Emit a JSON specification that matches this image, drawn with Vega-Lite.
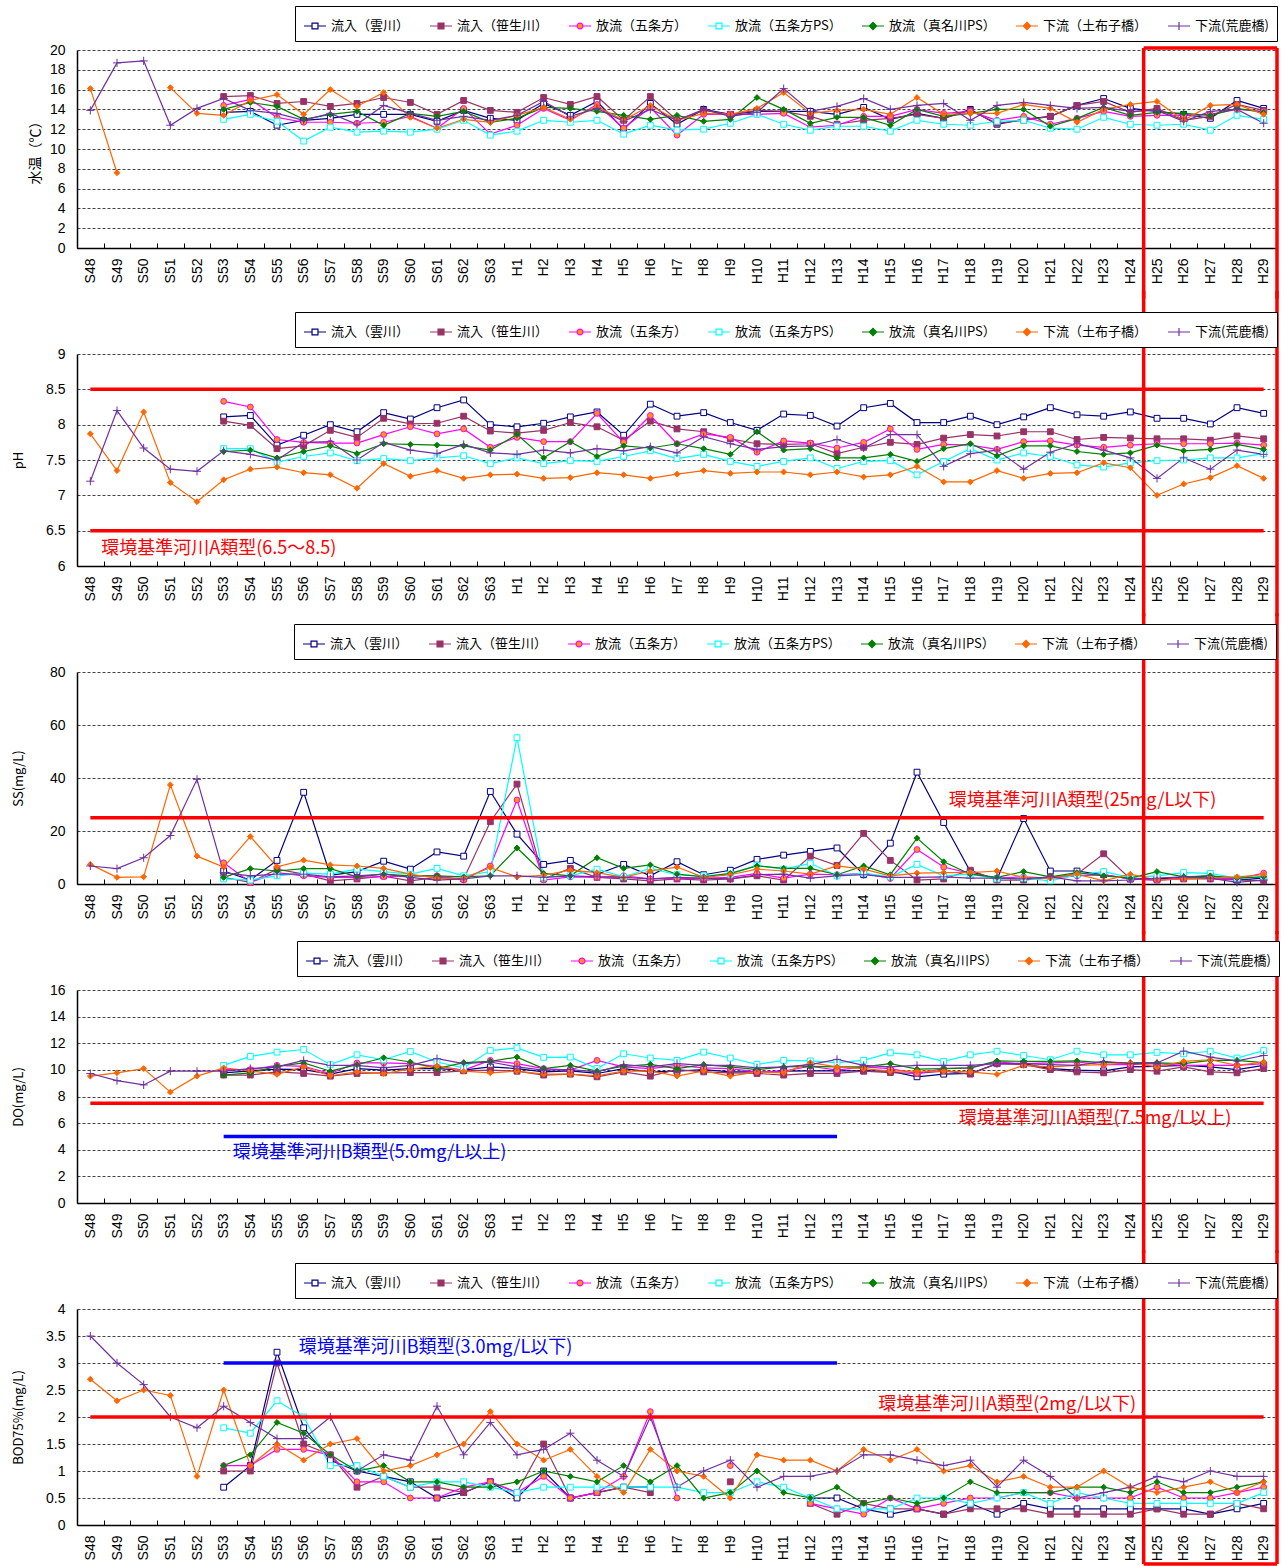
{
"$schema":"https://vega.github.io/schema/vega-lite/v6.json",
"background":"white",
"padding":{"left":12,"top":5,"right":2,"bottom":2},
"bounds":"flush",
"spacing":106,
"resolve":{"scale":{"x":"independent","y":"independent","color":"independent"},"legend":{"color":"independent"}},
"config":{
 "font":"Liberation Sans",
 "view":{"stroke":null},
 "axis":{"labelFont":"Liberation Sans","labelColor":"#000","titleFont":"Noto Sans CJK JP","titleFontWeight":"normal","titleColor":"#000","domainColor":"#000","tickColor":"#000","labelOverlap":false},
 "axisX":{"labelAngle":-90,"labelFontSize":14,"tickBand":"extent","tickSize":-5,"labelPadding":15,"domainWidth":1.5,"grid":false},
 "axisY":{"labelFontSize":14,"ticks":false,"labelPadding":12,"grid":true,"gridColor":"#444","gridDash":[3,2],"gridWidth":1,"domainWidth":1.5,"titleFontSize":13,"titleBaseline":"middle","titleAngle":-90,"labelOverlap":false,"tickCount":50},
 "legend":{"orient":"none","direction":"horizontal","columns":7,"gridAlign":"each","columnPadding":17,"padding":8,"strokeColor":"#000","strokeWidth":1,"fillColor":"#fff","labelFont":"Noto Sans CJK JP","labelFontSize":13,"labelColor":"#000","symbolSize":484,"labelOffset":4,"labelLimit":200,"symbolStrokeWidth":1.2}
},
"datasets":{
"series":[{"s":"a","name":"流入（雲川）"},{"s":"b","name":"流入（笹生川）"},{"s":"c","name":"放流（五条方）"},{"s":"d","name":"放流（五条方PS）"},{"s":"e","name":"放流（真名川PS）"},{"s":"f","name":"下流（土布子橋）"},{"s":"g","name":"下流(荒鹿橋)"}],
"T":[
{"x":"S53","s":"a","v":13.7},{"x":"S54","s":"a","v":13.8},{"x":"S55","s":"a","v":12.4},{"x":"S56","s":"a","v":12.9},{"x":"S57","s":"a","v":13.1},{"x":"S58","s":"a","v":13.5},{"x":"S59","s":"a","v":13.5},{"x":"S60","s":"a","v":13.5},{"x":"S61","s":"a","v":12.8},{"x":"S62","s":"a","v":13.9},{"x":"S63","s":"a","v":13.1},{"x":"H1","s":"a","v":12.9},{"x":"H2","s":"a","v":14.6},{"x":"H3","s":"a","v":13.4},{"x":"H4","s":"a","v":14.8},{"x":"H5","s":"a","v":12.0},{"x":"H6","s":"a","v":14.6},{"x":"H7","s":"a","v":12.5},{"x":"H8","s":"a","v":14.0},{"x":"H9","s":"a","v":13.5},{"x":"H10","s":"a","v":13.8},{"x":"H11","s":"a","v":13.8},{"x":"H12","s":"a","v":13.8},{"x":"H13","s":"a","v":13.5},{"x":"H14","s":"a","v":14.2},{"x":"H15","s":"a","v":13.0},{"x":"H16","s":"a","v":13.6},{"x":"H17","s":"a","v":13.1},{"x":"H18","s":"a","v":14.0},{"x":"H19","s":"a","v":12.5},{"x":"H20","s":"a","v":13.0},{"x":"H21","s":"a","v":13.3},{"x":"H22","s":"a","v":14.4},{"x":"H23","s":"a","v":15.1},{"x":"H24","s":"a","v":14.1},{"x":"H25","s":"a","v":13.8},{"x":"H26","s":"a","v":13.5},{"x":"H27","s":"a","v":13.1},{"x":"H28","s":"a","v":14.9},{"x":"H29","s":"a","v":14.1},
{"x":"S53","s":"b","v":15.3},{"x":"S54","s":"b","v":15.4},{"x":"S55","s":"b","v":14.6},{"x":"S56","s":"b","v":14.8},{"x":"S57","s":"b","v":14.3},{"x":"S58","s":"b","v":14.6},{"x":"S59","s":"b","v":15.2},{"x":"S60","s":"b","v":14.7},{"x":"S61","s":"b","v":13.5},{"x":"S62","s":"b","v":14.9},{"x":"S63","s":"b","v":13.9},{"x":"H1","s":"b","v":13.7},{"x":"H2","s":"b","v":15.2},{"x":"H3","s":"b","v":14.5},{"x":"H4","s":"b","v":15.3},{"x":"H5","s":"b","v":12.9},{"x":"H6","s":"b","v":15.3},{"x":"H7","s":"b","v":12.9},{"x":"H8","s":"b","v":13.9},{"x":"H9","s":"b","v":13.5},{"x":"H10","s":"b","v":13.9},{"x":"H11","s":"b","v":13.8},{"x":"H12","s":"b","v":13.3},{"x":"H13","s":"b","v":12.5},{"x":"H14","s":"b","v":12.9},{"x":"H15","s":"b","v":13.1},{"x":"H16","s":"b","v":13.5},{"x":"H17","s":"b","v":13.1},{"x":"H18","s":"b","v":13.9},{"x":"H19","s":"b","v":12.6},{"x":"H20","s":"b","v":12.9},{"x":"H21","s":"b","v":13.3},{"x":"H22","s":"b","v":14.4},{"x":"H23","s":"b","v":14.8},{"x":"H24","s":"b","v":13.7},{"x":"H25","s":"b","v":14.1},{"x":"H26","s":"b","v":12.9},{"x":"H27","s":"b","v":13.3},{"x":"H28","s":"b","v":14.5},{"x":"H29","s":"b","v":13.9},
{"x":"S53","s":"c","v":14.4},{"x":"S54","s":"c","v":15.0},{"x":"S55","s":"c","v":13.2},{"x":"S56","s":"c","v":12.7},{"x":"S57","s":"c","v":12.7},{"x":"S58","s":"c","v":12.6},{"x":"S59","s":"c","v":12.7},{"x":"S60","s":"c","v":13.3},{"x":"S61","s":"c","v":12.1},{"x":"S62","s":"c","v":14.1},{"x":"S63","s":"c","v":11.5},{"x":"H1","s":"c","v":12.4},{"x":"H2","s":"c","v":14.1},{"x":"H3","s":"c","v":12.9},{"x":"H4","s":"c","v":14.5},{"x":"H5","s":"c","v":12.1},{"x":"H6","s":"c","v":14.2},{"x":"H7","s":"c","v":11.4},{"x":"H8","s":"c","v":13.5},{"x":"H9","s":"c","v":13.5},{"x":"H10","s":"c","v":13.5},{"x":"H11","s":"c","v":13.6},{"x":"H12","s":"c","v":12.2},{"x":"H13","s":"c","v":12.4},{"x":"H14","s":"c","v":13.3},{"x":"H15","s":"c","v":13.3},{"x":"H16","s":"c","v":14.0},{"x":"H17","s":"c","v":13.6},{"x":"H18","s":"c","v":13.8},{"x":"H19","s":"c","v":12.9},{"x":"H20","s":"c","v":13.3},{"x":"H21","s":"c","v":12.5},{"x":"H22","s":"c","v":13.1},{"x":"H23","s":"c","v":13.8},{"x":"H24","s":"c","v":13.3},{"x":"H25","s":"c","v":13.4},{"x":"H26","s":"c","v":13.4},{"x":"H27","s":"c","v":13.5},{"x":"H28","s":"c","v":14.0},{"x":"H29","s":"c","v":13.8},
{"x":"S53","s":"d","v":13.0},{"x":"S54","s":"d","v":13.5},{"x":"S55","s":"d","v":12.8},{"x":"S56","s":"d","v":10.8},{"x":"S57","s":"d","v":12.2},{"x":"S58","s":"d","v":11.7},{"x":"S59","s":"d","v":11.8},{"x":"S60","s":"d","v":11.7},{"x":"S61","s":"d","v":12.0},{"x":"S62","s":"d","v":12.9},{"x":"S63","s":"d","v":11.4},{"x":"H1","s":"d","v":11.8},{"x":"H2","s":"d","v":12.9},{"x":"H3","s":"d","v":12.7},{"x":"H4","s":"d","v":12.9},{"x":"H5","s":"d","v":11.5},{"x":"H6","s":"d","v":12.4},{"x":"H7","s":"d","v":11.9},{"x":"H8","s":"d","v":12.0},{"x":"H9","s":"d","v":12.6},{"x":"H10","s":"d","v":13.5},{"x":"H11","s":"d","v":12.5},{"x":"H12","s":"d","v":11.9},{"x":"H13","s":"d","v":12.3},{"x":"H14","s":"d","v":12.3},{"x":"H15","s":"d","v":11.8},{"x":"H16","s":"d","v":12.9},{"x":"H17","s":"d","v":12.5},{"x":"H18","s":"d","v":12.4},{"x":"H19","s":"d","v":12.8},{"x":"H20","s":"d","v":12.9},{"x":"H21","s":"d","v":12.1},{"x":"H22","s":"d","v":12.0},{"x":"H23","s":"d","v":13.2},{"x":"H24","s":"d","v":12.5},{"x":"H25","s":"d","v":12.4},{"x":"H26","s":"d","v":12.5},{"x":"H27","s":"d","v":11.9},{"x":"H28","s":"d","v":13.4},{"x":"H29","s":"d","v":13.0},
{"x":"S53","s":"e","v":14.0},{"x":"S54","s":"e","v":14.7},{"x":"S55","s":"e","v":14.3},{"x":"S56","s":"e","v":13.0},{"x":"S57","s":"e","v":13.5},{"x":"S58","s":"e","v":13.8},{"x":"S59","s":"e","v":12.4},{"x":"S60","s":"e","v":13.6},{"x":"S61","s":"e","v":13.3},{"x":"S62","s":"e","v":13.8},{"x":"S63","s":"e","v":12.7},{"x":"H1","s":"e","v":13.1},{"x":"H2","s":"e","v":14.2},{"x":"H3","s":"e","v":14.1},{"x":"H4","s":"e","v":13.8},{"x":"H5","s":"e","v":13.4},{"x":"H6","s":"e","v":13.0},{"x":"H7","s":"e","v":13.4},{"x":"H8","s":"e","v":12.8},{"x":"H9","s":"e","v":13.0},{"x":"H10","s":"e","v":15.2},{"x":"H11","s":"e","v":14.0},{"x":"H12","s":"e","v":12.6},{"x":"H13","s":"e","v":13.2},{"x":"H14","s":"e","v":13.2},{"x":"H15","s":"e","v":12.4},{"x":"H16","s":"e","v":14.0},{"x":"H17","s":"e","v":13.3},{"x":"H18","s":"e","v":13.6},{"x":"H19","s":"e","v":14.0},{"x":"H20","s":"e","v":14.0},{"x":"H21","s":"e","v":12.3},{"x":"H22","s":"e","v":13.1},{"x":"H23","s":"e","v":14.2},{"x":"H24","s":"e","v":13.4},{"x":"H25","s":"e","v":13.7},{"x":"H26","s":"e","v":13.6},{"x":"H27","s":"e","v":13.4},{"x":"H28","s":"e","v":14.1},{"x":"H29","s":"e","v":13.7},
{"x":"S48","s":"f","v":16.1},{"x":"S49","s":"f","v":7.6},{"x":"S50","s":"f","v":null},{"x":"S51","s":"f","v":16.2},{"x":"S52","s":"f","v":13.6},{"x":"S53","s":"f","v":13.4},{"x":"S54","s":"f","v":14.9},{"x":"S55","s":"f","v":15.5},{"x":"S56","s":"f","v":13.5},{"x":"S57","s":"f","v":16.0},{"x":"S58","s":"f","v":14.3},{"x":"S59","s":"f","v":15.7},{"x":"S60","s":"f","v":13.2},{"x":"S61","s":"f","v":12.1},{"x":"S62","s":"f","v":13.0},{"x":"S63","s":"f","v":12.7},{"x":"H1","s":"f","v":13.4},{"x":"H2","s":"f","v":14.2},{"x":"H3","s":"f","v":13.0},{"x":"H4","s":"f","v":14.3},{"x":"H5","s":"f","v":12.9},{"x":"H6","s":"f","v":14.4},{"x":"H7","s":"f","v":12.9},{"x":"H8","s":"f","v":13.6},{"x":"H9","s":"f","v":13.5},{"x":"H10","s":"f","v":14.1},{"x":"H11","s":"f","v":15.7},{"x":"H12","s":"f","v":13.6},{"x":"H13","s":"f","v":13.9},{"x":"H14","s":"f","v":14.0},{"x":"H15","s":"f","v":13.5},{"x":"H16","s":"f","v":15.2},{"x":"H17","s":"f","v":13.5},{"x":"H18","s":"f","v":13.6},{"x":"H19","s":"f","v":13.6},{"x":"H20","s":"f","v":14.5},{"x":"H21","s":"f","v":14.1},{"x":"H22","s":"f","v":12.7},{"x":"H23","s":"f","v":14.0},{"x":"H24","s":"f","v":14.5},{"x":"H25","s":"f","v":14.8},{"x":"H26","s":"f","v":12.9},{"x":"H27","s":"f","v":14.4},{"x":"H28","s":"f","v":14.5},{"x":"H29","s":"f","v":13.5},
{"x":"S48","s":"g","v":13.9},{"x":"S49","s":"g","v":18.7},{"x":"S50","s":"g","v":18.9},{"x":"S51","s":"g","v":12.4},{"x":"S52","s":"g","v":14.1},{"x":"S53","s":"g","v":15.1},{"x":"S54","s":"g","v":13.9},{"x":"S55","s":"g","v":13.6},{"x":"S56","s":"g","v":12.9},{"x":"S57","s":"g","v":13.6},{"x":"S58","s":"g","v":12.5},{"x":"S59","s":"g","v":14.4},{"x":"S60","s":"g","v":13.6},{"x":"S61","s":"g","v":12.9},{"x":"S62","s":"g","v":13.3},{"x":"S63","s":"g","v":12.9},{"x":"H1","s":"g","v":13.4},{"x":"H2","s":"g","v":14.8},{"x":"H3","s":"g","v":13.3},{"x":"H4","s":"g","v":14.1},{"x":"H5","s":"g","v":12.8},{"x":"H6","s":"g","v":14.0},{"x":"H7","s":"g","v":12.9},{"x":"H8","s":"g","v":14.0},{"x":"H9","s":"g","v":13.3},{"x":"H10","s":"g","v":13.7},{"x":"H11","s":"g","v":16.1},{"x":"H12","s":"g","v":13.8},{"x":"H13","s":"g","v":14.3},{"x":"H14","s":"g","v":15.1},{"x":"H15","s":"g","v":14.0},{"x":"H16","s":"g","v":14.4},{"x":"H17","s":"g","v":14.6},{"x":"H18","s":"g","v":12.9},{"x":"H19","s":"g","v":14.4},{"x":"H20","s":"g","v":14.7},{"x":"H21","s":"g","v":14.4},{"x":"H22","s":"g","v":14.1},{"x":"H23","s":"g","v":14.2},{"x":"H24","s":"g","v":13.8},{"x":"H25","s":"g","v":13.9},{"x":"H26","s":"g","v":12.8},{"x":"H27","s":"g","v":13.8},{"x":"H28","s":"g","v":14.0},{"x":"H29","s":"g","v":12.6}
],
"P":[
{"x":"S53","s":"a","v":8.11},{"x":"S54","s":"a","v":8.13},{"x":"S55","s":"a","v":7.71},{"x":"S56","s":"a","v":7.85},{"x":"S57","s":"a","v":8.00},{"x":"S58","s":"a","v":7.90},{"x":"S59","s":"a","v":8.17},{"x":"S60","s":"a","v":8.08},{"x":"S61","s":"a","v":8.24},{"x":"S62","s":"a","v":8.35},{"x":"S63","s":"a","v":8.00},{"x":"H1","s":"a","v":7.97},{"x":"H2","s":"a","v":8.02},{"x":"H3","s":"a","v":8.11},{"x":"H4","s":"a","v":8.18},{"x":"H5","s":"a","v":7.85},{"x":"H6","s":"a","v":8.29},{"x":"H7","s":"a","v":8.12},{"x":"H8","s":"a","v":8.17},{"x":"H9","s":"a","v":8.03},{"x":"H10","s":"a","v":7.92},{"x":"H11","s":"a","v":8.15},{"x":"H12","s":"a","v":8.13},{"x":"H13","s":"a","v":7.98},{"x":"H14","s":"a","v":8.24},{"x":"H15","s":"a","v":8.30},{"x":"H16","s":"a","v":8.03},{"x":"H17","s":"a","v":8.03},{"x":"H18","s":"a","v":8.12},{"x":"H19","s":"a","v":8.00},{"x":"H20","s":"a","v":8.11},{"x":"H21","s":"a","v":8.24},{"x":"H22","s":"a","v":8.14},{"x":"H23","s":"a","v":8.12},{"x":"H24","s":"a","v":8.18},{"x":"H25","s":"a","v":8.09},{"x":"H26","s":"a","v":8.09},{"x":"H27","s":"a","v":8.01},{"x":"H28","s":"a","v":8.24},{"x":"H29","s":"a","v":8.16},
{"x":"S53","s":"b","v":8.05},{"x":"S54","s":"b","v":7.99},{"x":"S55","s":"b","v":7.66},{"x":"S56","s":"b","v":7.70},{"x":"S57","s":"b","v":7.92},{"x":"S58","s":"b","v":7.82},{"x":"S59","s":"b","v":8.09},{"x":"S60","s":"b","v":8.01},{"x":"S61","s":"b","v":8.02},{"x":"S62","s":"b","v":8.12},{"x":"S63","s":"b","v":7.91},{"x":"H1","s":"b","v":7.88},{"x":"H2","s":"b","v":7.92},{"x":"H3","s":"b","v":8.03},{"x":"H4","s":"b","v":7.97},{"x":"H5","s":"b","v":7.78},{"x":"H6","s":"b","v":8.05},{"x":"H7","s":"b","v":7.94},{"x":"H8","s":"b","v":7.90},{"x":"H9","s":"b","v":7.80},{"x":"H10","s":"b","v":7.73},{"x":"H11","s":"b","v":7.72},{"x":"H12","s":"b","v":7.73},{"x":"H13","s":"b","v":7.59},{"x":"H14","s":"b","v":7.68},{"x":"H15","s":"b","v":7.75},{"x":"H16","s":"b","v":7.72},{"x":"H17","s":"b","v":7.81},{"x":"H18","s":"b","v":7.86},{"x":"H19","s":"b","v":7.84},{"x":"H20","s":"b","v":7.90},{"x":"H21","s":"b","v":7.90},{"x":"H22","s":"b","v":7.79},{"x":"H23","s":"b","v":7.82},{"x":"H24","s":"b","v":7.81},{"x":"H25","s":"b","v":7.80},{"x":"H26","s":"b","v":7.80},{"x":"H27","s":"b","v":7.78},{"x":"H28","s":"b","v":7.84},{"x":"H29","s":"b","v":7.80},
{"x":"S53","s":"c","v":8.33},{"x":"S54","s":"c","v":8.25},{"x":"S55","s":"c","v":7.79},{"x":"S56","s":"c","v":7.75},{"x":"S57","s":"c","v":7.74},{"x":"S58","s":"c","v":7.74},{"x":"S59","s":"c","v":7.86},{"x":"S60","s":"c","v":7.97},{"x":"S61","s":"c","v":7.87},{"x":"S62","s":"c","v":7.94},{"x":"S63","s":"c","v":7.68},{"x":"H1","s":"c","v":7.82},{"x":"H2","s":"c","v":7.76},{"x":"H3","s":"c","v":7.76},{"x":"H4","s":"c","v":8.16},{"x":"H5","s":"c","v":7.75},{"x":"H6","s":"c","v":8.13},{"x":"H7","s":"c","v":7.73},{"x":"H8","s":"c","v":7.87},{"x":"H9","s":"c","v":7.82},{"x":"H10","s":"c","v":7.61},{"x":"H11","s":"c","v":7.77},{"x":"H12","s":"c","v":7.74},{"x":"H13","s":"c","v":7.67},{"x":"H14","s":"c","v":7.75},{"x":"H15","s":"c","v":7.94},{"x":"H16","s":"c","v":7.65},{"x":"H17","s":"c","v":7.72},{"x":"H18","s":"c","v":7.71},{"x":"H19","s":"c","v":7.65},{"x":"H20","s":"c","v":7.76},{"x":"H21","s":"c","v":7.77},{"x":"H22","s":"c","v":7.71},{"x":"H23","s":"c","v":7.68},{"x":"H24","s":"c","v":7.71},{"x":"H25","s":"c","v":7.73},{"x":"H26","s":"c","v":7.73},{"x":"H27","s":"c","v":7.73},{"x":"H28","s":"c","v":7.74},{"x":"H29","s":"c","v":7.71},
{"x":"S53","s":"d","v":7.66},{"x":"S54","s":"d","v":7.66},{"x":"S55","s":"d","v":7.47},{"x":"S56","s":"d","v":7.55},{"x":"S57","s":"d","v":7.60},{"x":"S58","s":"d","v":7.49},{"x":"S59","s":"d","v":7.52},{"x":"S60","s":"d","v":7.49},{"x":"S61","s":"d","v":7.53},{"x":"S62","s":"d","v":7.56},{"x":"S63","s":"d","v":7.45},{"x":"H1","s":"d","v":7.53},{"x":"H2","s":"d","v":7.45},{"x":"H3","s":"d","v":7.49},{"x":"H4","s":"d","v":7.48},{"x":"H5","s":"d","v":7.55},{"x":"H6","s":"d","v":7.63},{"x":"H7","s":"d","v":7.52},{"x":"H8","s":"d","v":7.58},{"x":"H9","s":"d","v":7.48},{"x":"H10","s":"d","v":7.41},{"x":"H11","s":"d","v":7.48},{"x":"H12","s":"d","v":7.53},{"x":"H13","s":"d","v":7.38},{"x":"H14","s":"d","v":7.48},{"x":"H15","s":"d","v":7.49},{"x":"H16","s":"d","v":7.29},{"x":"H17","s":"d","v":7.48},{"x":"H18","s":"d","v":7.66},{"x":"H19","s":"d","v":7.50},{"x":"H20","s":"d","v":7.60},{"x":"H21","s":"d","v":7.55},{"x":"H22","s":"d","v":7.43},{"x":"H23","s":"d","v":7.40},{"x":"H24","s":"d","v":7.46},{"x":"H25","s":"d","v":7.49},{"x":"H26","s":"d","v":7.50},{"x":"H27","s":"d","v":7.53},{"x":"H28","s":"d","v":7.53},{"x":"H29","s":"d","v":7.59},
{"x":"S53","s":"e","v":7.62},{"x":"S54","s":"e","v":7.64},{"x":"S55","s":"e","v":7.53},{"x":"S56","s":"e","v":7.62},{"x":"S57","s":"e","v":7.70},{"x":"S58","s":"e","v":7.59},{"x":"S59","s":"e","v":7.73},{"x":"S60","s":"e","v":7.72},{"x":"S61","s":"e","v":7.71},{"x":"S62","s":"e","v":7.70},{"x":"S63","s":"e","v":7.64},{"x":"H1","s":"e","v":7.86},{"x":"H2","s":"e","v":7.53},{"x":"H3","s":"e","v":7.76},{"x":"H4","s":"e","v":7.55},{"x":"H5","s":"e","v":7.70},{"x":"H6","s":"e","v":7.67},{"x":"H7","s":"e","v":7.73},{"x":"H8","s":"e","v":7.66},{"x":"H9","s":"e","v":7.58},{"x":"H10","s":"e","v":7.90},{"x":"H11","s":"e","v":7.64},{"x":"H12","s":"e","v":7.66},{"x":"H13","s":"e","v":7.53},{"x":"H14","s":"e","v":7.53},{"x":"H15","s":"e","v":7.58},{"x":"H16","s":"e","v":7.48},{"x":"H17","s":"e","v":7.66},{"x":"H18","s":"e","v":7.73},{"x":"H19","s":"e","v":7.56},{"x":"H20","s":"e","v":7.70},{"x":"H21","s":"e","v":7.70},{"x":"H22","s":"e","v":7.62},{"x":"H23","s":"e","v":7.58},{"x":"H24","s":"e","v":7.60},{"x":"H25","s":"e","v":7.71},{"x":"H26","s":"e","v":7.63},{"x":"H27","s":"e","v":7.65},{"x":"H28","s":"e","v":7.72},{"x":"H29","s":"e","v":7.65},
{"x":"S48","s":"f","v":7.87},{"x":"S49","s":"f","v":7.35},{"x":"S50","s":"f","v":8.18},{"x":"S51","s":"f","v":7.18},{"x":"S52","s":"f","v":6.91},{"x":"S53","s":"f","v":7.22},{"x":"S54","s":"f","v":7.37},{"x":"S55","s":"f","v":7.40},{"x":"S56","s":"f","v":7.32},{"x":"S57","s":"f","v":7.29},{"x":"S58","s":"f","v":7.10},{"x":"S59","s":"f","v":7.45},{"x":"S60","s":"f","v":7.27},{"x":"S61","s":"f","v":7.35},{"x":"S62","s":"f","v":7.24},{"x":"S63","s":"f","v":7.29},{"x":"H1","s":"f","v":7.30},{"x":"H2","s":"f","v":7.24},{"x":"H3","s":"f","v":7.25},{"x":"H4","s":"f","v":7.32},{"x":"H5","s":"f","v":7.29},{"x":"H6","s":"f","v":7.24},{"x":"H7","s":"f","v":7.30},{"x":"H8","s":"f","v":7.35},{"x":"H9","s":"f","v":7.31},{"x":"H10","s":"f","v":7.33},{"x":"H11","s":"f","v":7.33},{"x":"H12","s":"f","v":7.29},{"x":"H13","s":"f","v":7.33},{"x":"H14","s":"f","v":7.26},{"x":"H15","s":"f","v":7.29},{"x":"H16","s":"f","v":7.41},{"x":"H17","s":"f","v":7.19},{"x":"H18","s":"f","v":7.19},{"x":"H19","s":"f","v":7.35},{"x":"H20","s":"f","v":7.24},{"x":"H21","s":"f","v":7.31},{"x":"H22","s":"f","v":7.32},{"x":"H23","s":"f","v":7.46},{"x":"H24","s":"f","v":7.39},{"x":"H25","s":"f","v":7.00},{"x":"H26","s":"f","v":7.16},{"x":"H27","s":"f","v":7.25},{"x":"H28","s":"f","v":7.42},{"x":"H29","s":"f","v":7.24},
{"x":"S48","s":"g","v":7.20},{"x":"S49","s":"g","v":8.20},{"x":"S50","s":"g","v":7.67},{"x":"S51","s":"g","v":7.37},{"x":"S52","s":"g","v":7.34},{"x":"S53","s":"g","v":7.63},{"x":"S54","s":"g","v":7.58},{"x":"S55","s":"g","v":7.50},{"x":"S56","s":"g","v":7.75},{"x":"S57","s":"g","v":7.76},{"x":"S58","s":"g","v":7.50},{"x":"S59","s":"g","v":7.75},{"x":"S60","s":"g","v":7.64},{"x":"S61","s":"g","v":7.59},{"x":"S62","s":"g","v":7.72},{"x":"S63","s":"g","v":7.60},{"x":"H1","s":"g","v":7.58},{"x":"H2","s":"g","v":7.64},{"x":"H3","s":"g","v":7.60},{"x":"H4","s":"g","v":7.66},{"x":"H5","s":"g","v":7.63},{"x":"H6","s":"g","v":7.69},{"x":"H7","s":"g","v":7.60},{"x":"H8","s":"g","v":7.83},{"x":"H9","s":"g","v":7.73},{"x":"H10","s":"g","v":7.65},{"x":"H11","s":"g","v":7.69},{"x":"H12","s":"g","v":7.70},{"x":"H13","s":"g","v":7.79},{"x":"H14","s":"g","v":7.67},{"x":"H15","s":"g","v":7.86},{"x":"H16","s":"g","v":7.86},{"x":"H17","s":"g","v":7.41},{"x":"H18","s":"g","v":7.59},{"x":"H19","s":"g","v":7.64},{"x":"H20","s":"g","v":7.37},{"x":"H21","s":"g","v":7.61},{"x":"H22","s":"g","v":7.73},{"x":"H23","s":"g","v":7.64},{"x":"H24","s":"g","v":7.53},{"x":"H25","s":"g","v":7.24},{"x":"H26","s":"g","v":7.53},{"x":"H27","s":"g","v":7.37},{"x":"H28","s":"g","v":7.64},{"x":"H29","s":"g","v":7.58}
],
"S":[
{"x":"S53","s":"a","v":4.9},{"x":"S54","s":"a","v":1.5},{"x":"S55","s":"a","v":8.9},{"x":"S56","s":"a","v":34.6},{"x":"S57","s":"a","v":3.3},{"x":"S58","s":"a","v":4.7},{"x":"S59","s":"a","v":8.6},{"x":"S60","s":"a","v":5.6},{"x":"S61","s":"a","v":12.1},{"x":"S62","s":"a","v":10.5},{"x":"S63","s":"a","v":34.9},{"x":"H1","s":"a","v":18.8},{"x":"H2","s":"a","v":7.4},{"x":"H3","s":"a","v":8.9},{"x":"H4","s":"a","v":3.7},{"x":"H5","s":"a","v":7.4},{"x":"H6","s":"a","v":3.1},{"x":"H7","s":"a","v":8.4},{"x":"H8","s":"a","v":3.5},{"x":"H9","s":"a","v":5.2},{"x":"H10","s":"a","v":9.3},{"x":"H11","s":"a","v":10.9},{"x":"H12","s":"a","v":12.3},{"x":"H13","s":"a","v":13.6},{"x":"H14","s":"a","v":3.5},{"x":"H15","s":"a","v":15.4},{"x":"H16","s":"a","v":42.2},{"x":"H17","s":"a","v":23.2},{"x":"H18","s":"a","v":4.7},{"x":"H19","s":"a","v":1.9},{"x":"H20","s":"a","v":24.7},{"x":"H21","s":"a","v":4.9},{"x":"H22","s":"a","v":4.9},{"x":"H23","s":"a","v":3.5},{"x":"H24","s":"a","v":1.9},{"x":"H25","s":"a","v":1.9},{"x":"H26","s":"a","v":2.5},{"x":"H27","s":"a","v":3.1},{"x":"H28","s":"a","v":1.5},{"x":"H29","s":"a","v":2.2},
{"x":"S53","s":"b","v":2.5},{"x":"S54","s":"b","v":0.6},{"x":"S55","s":"b","v":5.6},{"x":"S56","s":"b","v":3.7},{"x":"S57","s":"b","v":1.2},{"x":"S58","s":"b","v":1.9},{"x":"S59","s":"b","v":3.0},{"x":"S60","s":"b","v":1.2},{"x":"S61","s":"b","v":2.5},{"x":"S62","s":"b","v":1.9},{"x":"S63","s":"b","v":23.5},{"x":"H1","s":"b","v":37.7},{"x":"H2","s":"b","v":1.9},{"x":"H3","s":"b","v":5.9},{"x":"H4","s":"b","v":2.5},{"x":"H5","s":"b","v":1.9},{"x":"H6","s":"b","v":1.2},{"x":"H7","s":"b","v":1.9},{"x":"H8","s":"b","v":1.5},{"x":"H9","s":"b","v":1.9},{"x":"H10","s":"b","v":3.1},{"x":"H11","s":"b","v":1.5},{"x":"H12","s":"b","v":10.5},{"x":"H13","s":"b","v":7.0},{"x":"H14","s":"b","v":19.1},{"x":"H15","s":"b","v":8.9},{"x":"H16","s":"b","v":1.5},{"x":"H17","s":"b","v":1.9},{"x":"H18","s":"b","v":5.2},{"x":"H19","s":"b","v":1.5},{"x":"H20","s":"b","v":1.5},{"x":"H21","s":"b","v":2.5},{"x":"H22","s":"b","v":3.7},{"x":"H23","s":"b","v":11.4},{"x":"H24","s":"b","v":1.9},{"x":"H25","s":"b","v":1.5},{"x":"H26","s":"b","v":1.9},{"x":"H27","s":"b","v":1.9},{"x":"H28","s":"b","v":1.5},{"x":"H29","s":"b","v":1.2},
{"x":"S53","s":"c","v":8.0},{"x":"S54","s":"c","v":0.6},{"x":"S55","s":"c","v":4.3},{"x":"S56","s":"c","v":3.1},{"x":"S57","s":"c","v":2.5},{"x":"S58","s":"c","v":2.5},{"x":"S59","s":"c","v":2.8},{"x":"S60","s":"c","v":3.1},{"x":"S61","s":"c","v":3.1},{"x":"S62","s":"c","v":1.5},{"x":"S63","s":"c","v":6.8},{"x":"H1","s":"c","v":31.7},{"x":"H2","s":"c","v":1.5},{"x":"H3","s":"c","v":2.7},{"x":"H4","s":"c","v":2.5},{"x":"H5","s":"c","v":3.1},{"x":"H6","s":"c","v":1.9},{"x":"H7","s":"c","v":2.2},{"x":"H8","s":"c","v":2.1},{"x":"H9","s":"c","v":2.5},{"x":"H10","s":"c","v":4.0},{"x":"H11","s":"c","v":2.2},{"x":"H12","s":"c","v":3.7},{"x":"H13","s":"c","v":3.5},{"x":"H14","s":"c","v":4.0},{"x":"H15","s":"c","v":2.1},{"x":"H16","s":"c","v":13.0},{"x":"H17","s":"c","v":6.4},{"x":"H18","s":"c","v":4.0},{"x":"H19","s":"c","v":2.2},{"x":"H20","s":"c","v":2.7},{"x":"H21","s":"c","v":2.2},{"x":"H22","s":"c","v":3.1},{"x":"H23","s":"c","v":3.5},{"x":"H24","s":"c","v":1.9},{"x":"H25","s":"c","v":1.5},{"x":"H26","s":"c","v":2.2},{"x":"H27","s":"c","v":2.2},{"x":"H28","s":"c","v":1.9},{"x":"H29","s":"c","v":4.1},
{"x":"S53","s":"d","v":1.9},{"x":"S54","s":"d","v":1.5},{"x":"S55","s":"d","v":3.1},{"x":"S56","s":"d","v":4.1},{"x":"S57","s":"d","v":3.7},{"x":"S58","s":"d","v":5.6},{"x":"S59","s":"d","v":4.7},{"x":"S60","s":"d","v":3.7},{"x":"S61","s":"d","v":5.9},{"x":"S62","s":"d","v":3.1},{"x":"S63","s":"d","v":4.7},{"x":"H1","s":"d","v":55.2},{"x":"H2","s":"d","v":2.5},{"x":"H3","s":"d","v":3.1},{"x":"H4","s":"d","v":5.6},{"x":"H5","s":"d","v":2.7},{"x":"H6","s":"d","v":5.9},{"x":"H7","s":"d","v":3.5},{"x":"H8","s":"d","v":3.1},{"x":"H9","s":"d","v":3.7},{"x":"H10","s":"d","v":7.0},{"x":"H11","s":"d","v":5.6},{"x":"H12","s":"d","v":7.8},{"x":"H13","s":"d","v":3.1},{"x":"H14","s":"d","v":4.1},{"x":"H15","s":"d","v":2.7},{"x":"H16","s":"d","v":7.4},{"x":"H17","s":"d","v":3.1},{"x":"H18","s":"d","v":3.7},{"x":"H19","s":"d","v":1.9},{"x":"H20","s":"d","v":2.2},{"x":"H21","s":"d","v":1.2},{"x":"H22","s":"d","v":3.5},{"x":"H23","s":"d","v":4.7},{"x":"H24","s":"d","v":2.5},{"x":"H25","s":"d","v":3.1},{"x":"H26","s":"d","v":4.3},{"x":"H27","s":"d","v":4.0},{"x":"H28","s":"d","v":2.2},{"x":"H29","s":"d","v":2.7},
{"x":"S53","s":"e","v":2.5},{"x":"S54","s":"e","v":5.8},{"x":"S55","s":"e","v":4.9},{"x":"S56","s":"e","v":5.8},{"x":"S57","s":"e","v":5.8},{"x":"S58","s":"e","v":2.7},{"x":"S59","s":"e","v":3.7},{"x":"S60","s":"e","v":3.1},{"x":"S61","s":"e","v":3.1},{"x":"S62","s":"e","v":2.7},{"x":"S63","s":"e","v":3.1},{"x":"H1","s":"e","v":13.6},{"x":"H2","s":"e","v":4.0},{"x":"H3","s":"e","v":3.1},{"x":"H4","s":"e","v":9.9},{"x":"H5","s":"e","v":5.9},{"x":"H6","s":"e","v":7.2},{"x":"H7","s":"e","v":3.7},{"x":"H8","s":"e","v":2.7},{"x":"H9","s":"e","v":4.0},{"x":"H10","s":"e","v":6.8},{"x":"H11","s":"e","v":5.9},{"x":"H12","s":"e","v":5.9},{"x":"H13","s":"e","v":3.5},{"x":"H14","s":"e","v":6.8},{"x":"H15","s":"e","v":3.5},{"x":"H16","s":"e","v":17.3},{"x":"H17","s":"e","v":8.4},{"x":"H18","s":"e","v":3.7},{"x":"H19","s":"e","v":2.5},{"x":"H20","s":"e","v":4.7},{"x":"H21","s":"e","v":2.7},{"x":"H22","s":"e","v":4.3},{"x":"H23","s":"e","v":3.1},{"x":"H24","s":"e","v":2.2},{"x":"H25","s":"e","v":4.7},{"x":"H26","s":"e","v":2.7},{"x":"H27","s":"e","v":3.1},{"x":"H28","s":"e","v":2.2},{"x":"H29","s":"e","v":2.7},
{"x":"S48","s":"f","v":7.4},{"x":"S49","s":"f","v":2.5},{"x":"S50","s":"f","v":2.7},{"x":"S51","s":"f","v":37.4},{"x":"S52","s":"f","v":10.5},{"x":"S53","s":"f","v":6.4},{"x":"S54","s":"f","v":17.9},{"x":"S55","s":"f","v":6.5},{"x":"S56","s":"f","v":9.0},{"x":"S57","s":"f","v":7.2},{"x":"S58","s":"f","v":6.8},{"x":"S59","s":"f","v":5.9},{"x":"S60","s":"f","v":3.7},{"x":"S61","s":"f","v":2.1},{"x":"S62","s":"f","v":2.2},{"x":"S63","s":"f","v":6.2},{"x":"H1","s":"f","v":2.7},{"x":"H2","s":"f","v":3.3},{"x":"H3","s":"f","v":5.2},{"x":"H4","s":"f","v":4.3},{"x":"H5","s":"f","v":2.5},{"x":"H6","s":"f","v":4.9},{"x":"H7","s":"f","v":6.4},{"x":"H8","s":"f","v":2.5},{"x":"H9","s":"f","v":3.5},{"x":"H10","s":"f","v":5.6},{"x":"H11","s":"f","v":4.9},{"x":"H12","s":"f","v":3.7},{"x":"H13","s":"f","v":6.8},{"x":"H14","s":"f","v":5.6},{"x":"H15","s":"f","v":3.1},{"x":"H16","s":"f","v":4.1},{"x":"H17","s":"f","v":4.3},{"x":"H18","s":"f","v":4.3},{"x":"H19","s":"f","v":4.9},{"x":"H20","s":"f","v":2.5},{"x":"H21","s":"f","v":2.2},{"x":"H22","s":"f","v":3.7},{"x":"H23","s":"f","v":1.2},{"x":"H24","s":"f","v":3.7},{"x":"H25","s":"f","v":1.5},{"x":"H26","s":"f","v":1.9},{"x":"H27","s":"f","v":2.2},{"x":"H28","s":"f","v":2.7},{"x":"H29","s":"f","v":3.5},
{"x":"S48","s":"g","v":6.8},{"x":"S49","s":"g","v":5.8},{"x":"S50","s":"g","v":9.9},{"x":"S51","s":"g","v":18.3},{"x":"S52","s":"g","v":39.5},{"x":"S53","s":"g","v":4.3},{"x":"S54","s":"g","v":3.1},{"x":"S55","s":"g","v":3.7},{"x":"S56","s":"g","v":3.7},{"x":"S57","s":"g","v":2.7},{"x":"S58","s":"g","v":3.1},{"x":"S59","s":"g","v":3.7},{"x":"S60","s":"g","v":2.5},{"x":"S61","s":"g","v":1.5},{"x":"S62","s":"g","v":1.9},{"x":"S63","s":"g","v":3.1},{"x":"H1","s":"g","v":3.1},{"x":"H2","s":"g","v":2.5},{"x":"H3","s":"g","v":3.1},{"x":"H4","s":"g","v":2.7},{"x":"H5","s":"g","v":2.5},{"x":"H6","s":"g","v":1.9},{"x":"H7","s":"g","v":2.5},{"x":"H8","s":"g","v":2.2},{"x":"H9","s":"g","v":1.9},{"x":"H10","s":"g","v":3.5},{"x":"H11","s":"g","v":3.7},{"x":"H12","s":"g","v":2.2},{"x":"H13","s":"g","v":3.1},{"x":"H14","s":"g","v":3.5},{"x":"H15","s":"g","v":2.5},{"x":"H16","s":"g","v":2.5},{"x":"H17","s":"g","v":2.7},{"x":"H18","s":"g","v":2.2},{"x":"H19","s":"g","v":2.2},{"x":"H20","s":"g","v":1.9},{"x":"H21","s":"g","v":2.7},{"x":"H22","s":"g","v":1.2},{"x":"H23","s":"g","v":1.2},{"x":"H24","s":"g","v":1.5},{"x":"H25","s":"g","v":2.2},{"x":"H26","s":"g","v":2.7},{"x":"H27","s":"g","v":2.2},{"x":"H28","s":"g","v":0.6},{"x":"H29","s":"g","v":1.5}
],
"D":[
{"x":"S53","s":"a","v":9.78},{"x":"S54","s":"a","v":9.93},{"x":"S55","s":"a","v":10.05},{"x":"S56","s":"a","v":10.02},{"x":"S57","s":"a","v":9.68},{"x":"S58","s":"a","v":10.10},{"x":"S59","s":"a","v":9.98},{"x":"S60","s":"a","v":10.10},{"x":"S61","s":"a","v":10.10},{"x":"S62","s":"a","v":9.98},{"x":"S63","s":"a","v":10.22},{"x":"H1","s":"a","v":10.10},{"x":"H2","s":"a","v":9.85},{"x":"H3","s":"a","v":9.93},{"x":"H4","s":"a","v":9.73},{"x":"H5","s":"a","v":10.10},{"x":"H6","s":"a","v":9.85},{"x":"H7","s":"a","v":9.90},{"x":"H8","s":"a","v":10.02},{"x":"H9","s":"a","v":9.85},{"x":"H10","s":"a","v":9.85},{"x":"H11","s":"a","v":9.90},{"x":"H12","s":"a","v":9.93},{"x":"H13","s":"a","v":9.93},{"x":"H14","s":"a","v":9.93},{"x":"H15","s":"a","v":9.90},{"x":"H16","s":"a","v":9.48},{"x":"H17","s":"a","v":9.68},{"x":"H18","s":"a","v":9.73},{"x":"H19","s":"a","v":10.47},{"x":"H20","s":"a","v":10.47},{"x":"H21","s":"a","v":10.10},{"x":"H22","s":"a","v":9.98},{"x":"H23","s":"a","v":9.93},{"x":"H24","s":"a","v":10.22},{"x":"H25","s":"a","v":10.27},{"x":"H26","s":"a","v":10.34},{"x":"H27","s":"a","v":10.22},{"x":"H28","s":"a","v":10.02},{"x":"H29","s":"a","v":10.34},
{"x":"S53","s":"b","v":9.61},{"x":"S54","s":"b","v":9.61},{"x":"S55","s":"b","v":9.85},{"x":"S56","s":"b","v":9.73},{"x":"S57","s":"b","v":9.53},{"x":"S58","s":"b","v":9.73},{"x":"S59","s":"b","v":9.78},{"x":"S60","s":"b","v":9.80},{"x":"S61","s":"b","v":9.80},{"x":"S62","s":"b","v":9.93},{"x":"S63","s":"b","v":9.98},{"x":"H1","s":"b","v":9.90},{"x":"H2","s":"b","v":9.61},{"x":"H3","s":"b","v":9.68},{"x":"H4","s":"b","v":9.48},{"x":"H5","s":"b","v":9.85},{"x":"H6","s":"b","v":9.53},{"x":"H7","s":"b","v":10.02},{"x":"H8","s":"b","v":9.85},{"x":"H9","s":"b","v":9.78},{"x":"H10","s":"b","v":9.73},{"x":"H11","s":"b","v":9.61},{"x":"H12","s":"b","v":9.73},{"x":"H13","s":"b","v":9.73},{"x":"H14","s":"b","v":9.90},{"x":"H15","s":"b","v":9.80},{"x":"H16","s":"b","v":9.73},{"x":"H17","s":"b","v":9.90},{"x":"H18","s":"b","v":9.68},{"x":"H19","s":"b","v":10.47},{"x":"H20","s":"b","v":10.39},{"x":"H21","s":"b","v":10.02},{"x":"H22","s":"b","v":9.85},{"x":"H23","s":"b","v":9.78},{"x":"H24","s":"b","v":10.02},{"x":"H25","s":"b","v":9.90},{"x":"H26","s":"b","v":10.22},{"x":"H27","s":"b","v":9.85},{"x":"H28","s":"b","v":9.78},{"x":"H29","s":"b","v":10.10},
{"x":"S53","s":"c","v":10.02},{"x":"S54","s":"c","v":10.02},{"x":"S55","s":"c","v":10.34},{"x":"S56","s":"c","v":10.27},{"x":"S57","s":"c","v":9.73},{"x":"S58","s":"c","v":10.52},{"x":"S59","s":"c","v":10.52},{"x":"S60","s":"c","v":10.47},{"x":"S61","s":"c","v":10.27},{"x":"S62","s":"c","v":9.98},{"x":"S63","s":"c","v":10.71},{"x":"H1","s":"c","v":10.47},{"x":"H2","s":"c","v":10.10},{"x":"H3","s":"c","v":9.98},{"x":"H4","s":"c","v":10.71},{"x":"H5","s":"c","v":10.22},{"x":"H6","s":"c","v":10.10},{"x":"H7","s":"c","v":10.34},{"x":"H8","s":"c","v":10.15},{"x":"H9","s":"c","v":10.10},{"x":"H10","s":"c","v":9.85},{"x":"H11","s":"c","v":9.90},{"x":"H12","s":"c","v":10.27},{"x":"H13","s":"c","v":9.98},{"x":"H14","s":"c","v":10.22},{"x":"H15","s":"c","v":10.10},{"x":"H16","s":"c","v":9.73},{"x":"H17","s":"c","v":10.10},{"x":"H18","s":"c","v":10.15},{"x":"H19","s":"c","v":10.59},{"x":"H20","s":"c","v":10.47},{"x":"H21","s":"c","v":10.52},{"x":"H22","s":"c","v":10.59},{"x":"H23","s":"c","v":10.39},{"x":"H24","s":"c","v":10.39},{"x":"H25","s":"c","v":10.47},{"x":"H26","s":"c","v":10.34},{"x":"H27","s":"c","v":10.34},{"x":"H28","s":"c","v":10.34},{"x":"H29","s":"c","v":10.47},
{"x":"S53","s":"d","v":10.34},{"x":"S54","s":"d","v":11.01},{"x":"S55","s":"d","v":11.33},{"x":"S56","s":"d","v":11.53},{"x":"S57","s":"d","v":10.39},{"x":"S58","s":"d","v":11.13},{"x":"S59","s":"d","v":10.76},{"x":"S60","s":"d","v":11.38},{"x":"S61","s":"d","v":10.59},{"x":"S62","s":"d","v":10.15},{"x":"S63","s":"d","v":11.45},{"x":"H1","s":"d","v":11.65},{"x":"H2","s":"d","v":10.94},{"x":"H3","s":"d","v":10.96},{"x":"H4","s":"d","v":10.10},{"x":"H5","s":"d","v":11.21},{"x":"H6","s":"d","v":10.89},{"x":"H7","s":"d","v":10.71},{"x":"H8","s":"d","v":11.33},{"x":"H9","s":"d","v":10.89},{"x":"H10","s":"d","v":10.42},{"x":"H11","s":"d","v":10.71},{"x":"H12","s":"d","v":10.67},{"x":"H13","s":"d","v":10.54},{"x":"H14","s":"d","v":10.71},{"x":"H15","s":"d","v":11.28},{"x":"H16","s":"d","v":11.13},{"x":"H17","s":"d","v":10.64},{"x":"H18","s":"d","v":11.13},{"x":"H19","s":"d","v":11.40},{"x":"H20","s":"d","v":11.08},{"x":"H21","s":"d","v":10.76},{"x":"H22","s":"d","v":11.40},{"x":"H23","s":"d","v":11.13},{"x":"H24","s":"d","v":11.13},{"x":"H25","s":"d","v":11.31},{"x":"H26","s":"d","v":11.21},{"x":"H27","s":"d","v":11.40},{"x":"H28","s":"d","v":10.89},{"x":"H29","s":"d","v":11.45},
{"x":"S53","s":"e","v":9.61},{"x":"S54","s":"e","v":9.78},{"x":"S55","s":"e","v":10.27},{"x":"S56","s":"e","v":10.52},{"x":"S57","s":"e","v":9.90},{"x":"S58","s":"e","v":10.39},{"x":"S59","s":"e","v":10.91},{"x":"S60","s":"e","v":10.59},{"x":"S61","s":"e","v":10.10},{"x":"S62","s":"e","v":10.54},{"x":"S63","s":"e","v":10.64},{"x":"H1","s":"e","v":10.96},{"x":"H2","s":"e","v":10.10},{"x":"H3","s":"e","v":10.34},{"x":"H4","s":"e","v":9.90},{"x":"H5","s":"e","v":10.27},{"x":"H6","s":"e","v":10.42},{"x":"H7","s":"e","v":10.10},{"x":"H8","s":"e","v":10.39},{"x":"H9","s":"e","v":10.22},{"x":"H10","s":"e","v":10.02},{"x":"H11","s":"e","v":10.22},{"x":"H12","s":"e","v":10.27},{"x":"H13","s":"e","v":10.22},{"x":"H14","s":"e","v":10.22},{"x":"H15","s":"e","v":10.47},{"x":"H16","s":"e","v":10.05},{"x":"H17","s":"e","v":10.10},{"x":"H18","s":"e","v":10.15},{"x":"H19","s":"e","v":10.67},{"x":"H20","s":"e","v":10.64},{"x":"H21","s":"e","v":10.64},{"x":"H22","s":"e","v":10.67},{"x":"H23","s":"e","v":10.54},{"x":"H24","s":"e","v":10.54},{"x":"H25","s":"e","v":10.52},{"x":"H26","s":"e","v":10.47},{"x":"H27","s":"e","v":10.71},{"x":"H28","s":"e","v":10.71},{"x":"H29","s":"e","v":10.54},
{"x":"S48","s":"f","v":9.53},{"x":"S49","s":"f","v":9.78},{"x":"S50","s":"f","v":10.10},{"x":"S51","s":"f","v":8.33},{"x":"S52","s":"f","v":9.53},{"x":"S53","s":"f","v":10.15},{"x":"S54","s":"f","v":9.93},{"x":"S55","s":"f","v":9.66},{"x":"S56","s":"f","v":10.22},{"x":"S57","s":"f","v":9.56},{"x":"S58","s":"f","v":9.85},{"x":"S59","s":"f","v":9.73},{"x":"S60","s":"f","v":10.05},{"x":"S61","s":"f","v":10.30},{"x":"S62","s":"f","v":9.90},{"x":"S63","s":"f","v":9.78},{"x":"H1","s":"f","v":9.90},{"x":"H2","s":"f","v":9.68},{"x":"H3","s":"f","v":9.68},{"x":"H4","s":"f","v":9.56},{"x":"H5","s":"f","v":9.90},{"x":"H6","s":"f","v":9.93},{"x":"H7","s":"f","v":9.53},{"x":"H8","s":"f","v":9.93},{"x":"H9","s":"f","v":9.53},{"x":"H10","s":"f","v":9.85},{"x":"H11","s":"f","v":9.78},{"x":"H12","s":"f","v":10.54},{"x":"H13","s":"f","v":10.22},{"x":"H14","s":"f","v":10.10},{"x":"H15","s":"f","v":9.90},{"x":"H16","s":"f","v":9.90},{"x":"H17","s":"f","v":9.90},{"x":"H18","s":"f","v":9.85},{"x":"H19","s":"f","v":9.66},{"x":"H20","s":"f","v":10.34},{"x":"H21","s":"f","v":10.22},{"x":"H22","s":"f","v":10.34},{"x":"H23","s":"f","v":10.39},{"x":"H24","s":"f","v":10.54},{"x":"H25","s":"f","v":10.22},{"x":"H26","s":"f","v":10.64},{"x":"H27","s":"f","v":10.76},{"x":"H28","s":"f","v":10.34},{"x":"H29","s":"f","v":10.59},
{"x":"S48","s":"g","v":9.73},{"x":"S49","s":"g","v":9.19},{"x":"S50","s":"g","v":8.87},{"x":"S51","s":"g","v":9.90},{"x":"S52","s":"g","v":9.90},{"x":"S53","s":"g","v":9.90},{"x":"S54","s":"g","v":10.10},{"x":"S55","s":"g","v":10.22},{"x":"S56","s":"g","v":10.71},{"x":"S57","s":"g","v":10.34},{"x":"S58","s":"g","v":10.34},{"x":"S59","s":"g","v":10.15},{"x":"S60","s":"g","v":10.34},{"x":"S61","s":"g","v":10.84},{"x":"S62","s":"g","v":10.47},{"x":"S63","s":"g","v":10.59},{"x":"H1","s":"g","v":10.22},{"x":"H2","s":"g","v":9.98},{"x":"H3","s":"g","v":10.02},{"x":"H4","s":"g","v":9.85},{"x":"H5","s":"g","v":10.39},{"x":"H6","s":"g","v":10.22},{"x":"H7","s":"g","v":10.47},{"x":"H8","s":"g","v":10.34},{"x":"H9","s":"g","v":10.34},{"x":"H10","s":"g","v":10.15},{"x":"H11","s":"g","v":10.22},{"x":"H12","s":"g","v":10.39},{"x":"H13","s":"g","v":10.79},{"x":"H14","s":"g","v":10.34},{"x":"H15","s":"g","v":10.22},{"x":"H16","s":"g","v":10.34},{"x":"H17","s":"g","v":10.34},{"x":"H18","s":"g","v":10.34},{"x":"H19","s":"g","v":10.47},{"x":"H20","s":"g","v":10.47},{"x":"H21","s":"g","v":10.39},{"x":"H22","s":"g","v":10.34},{"x":"H23","s":"g","v":10.64},{"x":"H24","s":"g","v":10.47},{"x":"H25","s":"g","v":10.52},{"x":"H26","s":"g","v":11.40},{"x":"H27","s":"g","v":10.96},{"x":"H28","s":"g","v":10.67},{"x":"H29","s":"g","v":11.08}
],
"B":[
{"x":"S53","s":"a","v":0.7},{"x":"S54","s":"a","v":1.1},{"x":"S55","s":"a","v":3.2},{"x":"S56","s":"a","v":1.8},{"x":"S57","s":"a","v":1.2},{"x":"S58","s":"a","v":1.0},{"x":"S59","s":"a","v":0.9},{"x":"S60","s":"a","v":0.8},{"x":"S61","s":"a","v":0.5},{"x":"S62","s":"a","v":0.6},{"x":"S63","s":"a","v":0.8},{"x":"H1","s":"a","v":0.5},{"x":"H2","s":"a","v":1.0},{"x":"H3","s":"a","v":0.5},{"x":"H4","s":"a","v":0.6},{"x":"H5","s":"a","v":0.7},{"x":"H6","s":"a","v":0.7},{"x":"H7","s":"a","v":null},{"x":"H8","s":"a","v":null},{"x":"H9","s":"a","v":null},{"x":"H10","s":"a","v":null},{"x":"H11","s":"a","v":null},{"x":"H12","s":"a","v":0.5},{"x":"H13","s":"a","v":0.5},{"x":"H14","s":"a","v":0.3},{"x":"H15","s":"a","v":0.2},{"x":"H16","s":"a","v":0.3},{"x":"H17","s":"a","v":0.2},{"x":"H18","s":"a","v":0.4},{"x":"H19","s":"a","v":0.2},{"x":"H20","s":"a","v":0.4},{"x":"H21","s":"a","v":0.3},{"x":"H22","s":"a","v":0.3},{"x":"H23","s":"a","v":0.3},{"x":"H24","s":"a","v":0.3},{"x":"H25","s":"a","v":0.3},{"x":"H26","s":"a","v":0.3},{"x":"H27","s":"a","v":0.2},{"x":"H28","s":"a","v":0.3},{"x":"H29","s":"a","v":0.4},
{"x":"S53","s":"b","v":1.0},{"x":"S54","s":"b","v":1.0},{"x":"S55","s":"b","v":3.0},{"x":"S56","s":"b","v":1.5},{"x":"S57","s":"b","v":1.3},{"x":"S58","s":"b","v":0.7},{"x":"S59","s":"b","v":0.9},{"x":"S60","s":"b","v":0.7},{"x":"S61","s":"b","v":0.7},{"x":"S62","s":"b","v":0.6},{"x":"S63","s":"b","v":0.8},{"x":"H1","s":"b","v":0.6},{"x":"H2","s":"b","v":1.5},{"x":"H3","s":"b","v":0.5},{"x":"H4","s":"b","v":0.6},{"x":"H5","s":"b","v":0.7},{"x":"H6","s":"b","v":0.6},{"x":"H7","s":"b","v":null},{"x":"H8","s":"b","v":null},{"x":"H9","s":"b","v":0.8},{"x":"H10","s":"b","v":null},{"x":"H11","s":"b","v":null},{"x":"H12","s":"b","v":0.4},{"x":"H13","s":"b","v":0.2},{"x":"H14","s":"b","v":0.4},{"x":"H15","s":"b","v":0.3},{"x":"H16","s":"b","v":0.3},{"x":"H17","s":"b","v":0.2},{"x":"H18","s":"b","v":0.3},{"x":"H19","s":"b","v":0.3},{"x":"H20","s":"b","v":0.3},{"x":"H21","s":"b","v":0.2},{"x":"H22","s":"b","v":0.2},{"x":"H23","s":"b","v":0.2},{"x":"H24","s":"b","v":0.2},{"x":"H25","s":"b","v":0.3},{"x":"H26","s":"b","v":0.2},{"x":"H27","s":"b","v":0.2},{"x":"H28","s":"b","v":0.4},{"x":"H29","s":"b","v":0.3},
{"x":"S53","s":"c","v":1.1},{"x":"S54","s":"c","v":1.1},{"x":"S55","s":"c","v":1.4},{"x":"S56","s":"c","v":1.4},{"x":"S57","s":"c","v":1.3},{"x":"S58","s":"c","v":0.8},{"x":"S59","s":"c","v":0.8},{"x":"S60","s":"c","v":0.5},{"x":"S61","s":"c","v":0.5},{"x":"S62","s":"c","v":0.7},{"x":"S63","s":"c","v":0.8},{"x":"H1","s":"c","v":0.6},{"x":"H2","s":"c","v":0.9},{"x":"H3","s":"c","v":0.5},{"x":"H4","s":"c","v":0.6},{"x":"H5","s":"c","v":0.9},{"x":"H6","s":"c","v":2.1},{"x":"H7","s":"c","v":0.5},{"x":"H8","s":"c","v":null},{"x":"H9","s":"c","v":1.1},{"x":"H10","s":"c","v":null},{"x":"H11","s":"c","v":null},{"x":"H12","s":"c","v":0.4},{"x":"H13","s":"c","v":0.3},{"x":"H14","s":"c","v":0.2},{"x":"H15","s":"c","v":0.5},{"x":"H16","s":"c","v":0.3},{"x":"H17","s":"c","v":0.4},{"x":"H18","s":"c","v":0.5},{"x":"H19","s":"c","v":0.5},{"x":"H20","s":"c","v":0.6},{"x":"H21","s":"c","v":0.6},{"x":"H22","s":"c","v":0.5},{"x":"H23","s":"c","v":0.5},{"x":"H24","s":"c","v":0.5},{"x":"H25","s":"c","v":0.7},{"x":"H26","s":"c","v":0.5},{"x":"H27","s":"c","v":0.5},{"x":"H28","s":"c","v":0.6},{"x":"H29","s":"c","v":0.7},
{"x":"S53","s":"d","v":1.8},{"x":"S54","s":"d","v":1.7},{"x":"S55","s":"d","v":2.3},{"x":"S56","s":"d","v":2.0},{"x":"S57","s":"d","v":1.1},{"x":"S58","s":"d","v":1.1},{"x":"S59","s":"d","v":0.9},{"x":"S60","s":"d","v":0.7},{"x":"S61","s":"d","v":0.8},{"x":"S62","s":"d","v":0.8},{"x":"S63","s":"d","v":0.7},{"x":"H1","s":"d","v":0.6},{"x":"H2","s":"d","v":0.7},{"x":"H3","s":"d","v":0.7},{"x":"H4","s":"d","v":0.7},{"x":"H5","s":"d","v":0.7},{"x":"H6","s":"d","v":0.7},{"x":"H7","s":"d","v":0.7},{"x":"H8","s":"d","v":0.6},{"x":"H9","s":"d","v":0.6},{"x":"H10","s":"d","v":0.8},{"x":"H11","s":"d","v":0.7},{"x":"H12","s":"d","v":0.5},{"x":"H13","s":"d","v":0.3},{"x":"H14","s":"d","v":0.3},{"x":"H15","s":"d","v":0.3},{"x":"H16","s":"d","v":0.5},{"x":"H17","s":"d","v":0.5},{"x":"H18","s":"d","v":0.4},{"x":"H19","s":"d","v":0.5},{"x":"H20","s":"d","v":0.6},{"x":"H21","s":"d","v":0.4},{"x":"H22","s":"d","v":0.6},{"x":"H23","s":"d","v":0.5},{"x":"H24","s":"d","v":0.4},{"x":"H25","s":"d","v":0.4},{"x":"H26","s":"d","v":0.4},{"x":"H27","s":"d","v":0.4},{"x":"H28","s":"d","v":0.4},{"x":"H29","s":"d","v":0.6},
{"x":"S53","s":"e","v":1.1},{"x":"S54","s":"e","v":1.3},{"x":"S55","s":"e","v":1.9},{"x":"S56","s":"e","v":1.7},{"x":"S57","s":"e","v":1.3},{"x":"S58","s":"e","v":1.0},{"x":"S59","s":"e","v":1.1},{"x":"S60","s":"e","v":0.8},{"x":"S61","s":"e","v":0.8},{"x":"S62","s":"e","v":0.7},{"x":"S63","s":"e","v":0.7},{"x":"H1","s":"e","v":0.8},{"x":"H2","s":"e","v":1.0},{"x":"H3","s":"e","v":0.9},{"x":"H4","s":"e","v":0.8},{"x":"H5","s":"e","v":1.1},{"x":"H6","s":"e","v":0.8},{"x":"H7","s":"e","v":1.1},{"x":"H8","s":"e","v":0.5},{"x":"H9","s":"e","v":0.6},{"x":"H10","s":"e","v":1.0},{"x":"H11","s":"e","v":0.6},{"x":"H12","s":"e","v":0.5},{"x":"H13","s":"e","v":0.7},{"x":"H14","s":"e","v":0.4},{"x":"H15","s":"e","v":0.5},{"x":"H16","s":"e","v":0.4},{"x":"H17","s":"e","v":0.5},{"x":"H18","s":"e","v":0.8},{"x":"H19","s":"e","v":0.6},{"x":"H20","s":"e","v":0.6},{"x":"H21","s":"e","v":0.6},{"x":"H22","s":"e","v":0.7},{"x":"H23","s":"e","v":0.7},{"x":"H24","s":"e","v":0.6},{"x":"H25","s":"e","v":0.8},{"x":"H26","s":"e","v":0.6},{"x":"H27","s":"e","v":0.6},{"x":"H28","s":"e","v":0.7},{"x":"H29","s":"e","v":0.8},
{"x":"S48","s":"f","v":2.7},{"x":"S49","s":"f","v":2.3},{"x":"S50","s":"f","v":2.5},{"x":"S51","s":"f","v":2.4},{"x":"S52","s":"f","v":0.9},{"x":"S53","s":"f","v":2.5},{"x":"S54","s":"f","v":1.1},{"x":"S55","s":"f","v":1.5},{"x":"S56","s":"f","v":1.2},{"x":"S57","s":"f","v":1.5},{"x":"S58","s":"f","v":1.6},{"x":"S59","s":"f","v":1.0},{"x":"S60","s":"f","v":1.1},{"x":"S61","s":"f","v":1.3},{"x":"S62","s":"f","v":1.5},{"x":"S63","s":"f","v":2.1},{"x":"H1","s":"f","v":1.5},{"x":"H2","s":"f","v":1.2},{"x":"H3","s":"f","v":1.4},{"x":"H4","s":"f","v":0.9},{"x":"H5","s":"f","v":0.6},{"x":"H6","s":"f","v":1.4},{"x":"H7","s":"f","v":1.0},{"x":"H8","s":"f","v":0.9},{"x":"H9","s":"f","v":0.5},{"x":"H10","s":"f","v":1.3},{"x":"H11","s":"f","v":1.2},{"x":"H12","s":"f","v":1.2},{"x":"H13","s":"f","v":1.0},{"x":"H14","s":"f","v":1.4},{"x":"H15","s":"f","v":1.2},{"x":"H16","s":"f","v":1.4},{"x":"H17","s":"f","v":1.0},{"x":"H18","s":"f","v":1.1},{"x":"H19","s":"f","v":0.8},{"x":"H20","s":"f","v":0.9},{"x":"H21","s":"f","v":0.7},{"x":"H22","s":"f","v":0.7},{"x":"H23","s":"f","v":1.0},{"x":"H24","s":"f","v":0.7},{"x":"H25","s":"f","v":0.6},{"x":"H26","s":"f","v":0.7},{"x":"H27","s":"f","v":0.8},{"x":"H28","s":"f","v":0.6},{"x":"H29","s":"f","v":0.8},
{"x":"S48","s":"g","v":3.5},{"x":"S49","s":"g","v":3.0},{"x":"S50","s":"g","v":2.6},{"x":"S51","s":"g","v":2.0},{"x":"S52","s":"g","v":1.8},{"x":"S53","s":"g","v":2.2},{"x":"S54","s":"g","v":1.9},{"x":"S55","s":"g","v":1.6},{"x":"S56","s":"g","v":1.6},{"x":"S57","s":"g","v":2.0},{"x":"S58","s":"g","v":1.0},{"x":"S59","s":"g","v":1.3},{"x":"S60","s":"g","v":1.2},{"x":"S61","s":"g","v":2.2},{"x":"S62","s":"g","v":1.3},{"x":"S63","s":"g","v":1.9},{"x":"H1","s":"g","v":1.3},{"x":"H2","s":"g","v":1.4},{"x":"H3","s":"g","v":1.7},{"x":"H4","s":"g","v":1.2},{"x":"H5","s":"g","v":0.9},{"x":"H6","s":"g","v":2.0},{"x":"H7","s":"g","v":0.7},{"x":"H8","s":"g","v":1.0},{"x":"H9","s":"g","v":1.2},{"x":"H10","s":"g","v":0.7},{"x":"H11","s":"g","v":0.9},{"x":"H12","s":"g","v":0.9},{"x":"H13","s":"g","v":1.0},{"x":"H14","s":"g","v":1.3},{"x":"H15","s":"g","v":1.3},{"x":"H16","s":"g","v":1.2},{"x":"H17","s":"g","v":1.1},{"x":"H18","s":"g","v":1.2},{"x":"H19","s":"g","v":0.7},{"x":"H20","s":"g","v":1.2},{"x":"H21","s":"g","v":0.9},{"x":"H22","s":"g","v":0.5},{"x":"H23","s":"g","v":0.6},{"x":"H24","s":"g","v":0.7},{"x":"H25","s":"g","v":0.9},{"x":"H26","s":"g","v":0.8},{"x":"H27","s":"g","v":1.0},{"x":"H28","s":"g","v":0.9},{"x":"H29","s":"g","v":0.9}
]
},
"vconcat":[
{"width":1200,"height":198,
 "layer":[
  {"data":{"name":"T"},"transform":[{"lookup":"s","from":{"data":{"name":"series"},"key":"s","fields":["name"]}}],
   "layer":[
    {"mark":{"type":"line","strokeWidth":1.2},"encoding":{
      "x":{"field":"x","type":"ordinal","scale":{"domain":["S48","S49","S50","S51","S52","S53","S54","S55","S56","S57","S58","S59","S60","S61","S62","S63","H1","H2","H3","H4","H5","H6","H7","H8","H9","H10","H11","H12","H13","H14","H15","H16","H17","H18","H19","H20","H21","H22","H23","H24","H25","H26","H27","H28","H29"],"paddingInner":0,"paddingOuter":0},"axis":{"title":null}},
      "y":{"field":"v","type":"quantitative","scale":{"domain":[0,20],"nice":false},"axis":{"title":"水温（℃）","values":[0,2,4,6,8,10,12,14,16,18,20],"tickCount":50,"labelExpr":"''+datum.value","titleX":-42,"titleFontSize":14}},
      "color":{"field":"name","type":"nominal","scale":{"domain":["流入（雲川）","流入（笹生川）","放流（五条方）","放流（五条方PS）","放流（真名川PS）","下流（土布子橋）","下流(荒鹿橋)"],"range":["#000080","#993366","#FF00FF","#00FFFF","#008000","#FF6600","#7030A0"]},
        "legend":{"title":null,"legendX":218,"legendY":-44,"encode":{"symbols":{"update":{"shape":{"signal":"['M-1,0H-0.27M0.27,0H1M-0.27,-0.27H0.27V0.27H-0.27Z','M-1,0H-0.27M0.27,0H1M-0.27,-0.27H0.27V0.27H-0.27Z','M-1,0H-0.27M0.27,0H1M-0.27,0A0.27,0.27,0,1,0,0.27,0A0.27,0.27,0,1,0,-0.27,0Z','M-1,0H-0.27M0.27,0H1M-0.27,-0.27H0.27V0.27H-0.27Z','M-1,0H1M-0.33,0L0,-0.33L0.33,0L0,0.33Z','M-1,0H1M-0.33,0L0,-0.33L0.33,0L0,0.33Z','M-1,0H1M0,-0.36V0.36'][datum.index]"},"fill":{"signal":"['white','#993366','#FF9900','white','#008000','#FF6600','transparent'][datum.index]"},"strokeWidth":{"value":1.2}}}}}}}},
    {"mark":{"type":"point","filled":true,"strokeWidth":1,"opacity":1,"size":34},"encoding":{
      "x":{"field":"x","type":"ordinal"},
      "y":{"field":"v","type":"quantitative"},
      "shape":{"field":"s","type":"nominal","scale":{"domain":["a","b","c","d","e","f","g"],"range":["square","square","circle","square","diamond","diamond","M-1.4,0H1.4M0,-1.4V1.4"]},"legend":null},
      "fill":{"field":"s","type":"nominal","scale":{"domain":["a","b","c","d","e","f","g"],"range":["white","#993366","#FF9900","white","#008000","#FF6600","transparent"]},"legend":null},
      "stroke":{"field":"s","type":"nominal","scale":{"domain":["a","b","c","d","e","f","g"],"range":["#000080","#993366","#FF00FF","#00FFFF","#008000","#FF6600","#7030A0"]},"legend":null}}}
   ]},
  {"data":{"values":[{}]},"mark":{"type":"rule","color":"#FF0000","strokeWidth":3.5},"encoding":{"x":{"datum":"H25","type":"ordinal","bandPosition":0},"y":{"datum":20.2,"type":"quantitative"},"y2":{"datum":-5.1}}},
  {"data":{"values":[{}]},"mark":{"type":"rule","color":"#FF0000","strokeWidth":3.5},"encoding":{"x":{"datum":"H29","type":"ordinal","bandPosition":1},"y":{"datum":20.2,"type":"quantitative"},"y2":{"datum":-5.1}}},
  {"data":{"values":[{}]},"mark":{"type":"rule","color":"#FF0000","strokeWidth":3.5},"encoding":{"x":{"datum":"H25","type":"ordinal","bandPosition":0},"x2":{"datum":"H29","bandPosition":1},"y":{"datum":20.2,"type":"quantitative"}}}
 ]},
{"width":1200,"height":212,
 "layer":[
  {"data":{"name":"P"},"transform":[{"lookup":"s","from":{"data":{"name":"series"},"key":"s","fields":["name"]}}],
   "layer":[
    {"mark":{"type":"line","strokeWidth":1.2},"encoding":{
      "x":{"field":"x","type":"ordinal","scale":{"domain":["S48","S49","S50","S51","S52","S53","S54","S55","S56","S57","S58","S59","S60","S61","S62","S63","H1","H2","H3","H4","H5","H6","H7","H8","H9","H10","H11","H12","H13","H14","H15","H16","H17","H18","H19","H20","H21","H22","H23","H24","H25","H26","H27","H28","H29"],"paddingInner":0,"paddingOuter":0},"axis":{"title":null}},
      "y":{"field":"v","type":"quantitative","scale":{"domain":[6,9],"nice":false,"zero":false},"axis":{"title":"pH","values":[6,6.5,7,7.5,8,8.5,9],"tickCount":50,"labelExpr":"''+datum.value","titleX":-59}},
      "color":{"field":"name","type":"nominal","scale":{"domain":["流入（雲川）","流入（笹生川）","放流（五条方）","放流（五条方PS）","放流（真名川PS）","下流（土布子橋）","下流(荒鹿橋)"],"range":["#000080","#993366","#FF00FF","#00FFFF","#008000","#FF6600","#7030A0"]},
        "legend":{"title":null,"legendX":218,"legendY":-42,"encode":{"symbols":{"update":{"shape":{"signal":"['M-1,0H-0.27M0.27,0H1M-0.27,-0.27H0.27V0.27H-0.27Z','M-1,0H-0.27M0.27,0H1M-0.27,-0.27H0.27V0.27H-0.27Z','M-1,0H-0.27M0.27,0H1M-0.27,0A0.27,0.27,0,1,0,0.27,0A0.27,0.27,0,1,0,-0.27,0Z','M-1,0H-0.27M0.27,0H1M-0.27,-0.27H0.27V0.27H-0.27Z','M-1,0H1M-0.33,0L0,-0.33L0.33,0L0,0.33Z','M-1,0H1M-0.33,0L0,-0.33L0.33,0L0,0.33Z','M-1,0H1M0,-0.36V0.36'][datum.index]"},"fill":{"signal":"['white','#993366','#FF9900','white','#008000','#FF6600','transparent'][datum.index]"},"strokeWidth":{"value":1.2}}}}}}}},
    {"mark":{"type":"point","filled":true,"strokeWidth":1,"opacity":1,"size":34},"encoding":{
      "x":{"field":"x","type":"ordinal"},
      "y":{"field":"v","type":"quantitative"},
      "shape":{"field":"s","type":"nominal","scale":{"domain":["a","b","c","d","e","f","g"],"range":["square","square","circle","square","diamond","diamond","M-1.4,0H1.4M0,-1.4V1.4"]},"legend":null},
      "fill":{"field":"s","type":"nominal","scale":{"domain":["a","b","c","d","e","f","g"],"range":["white","#993366","#FF9900","white","#008000","#FF6600","transparent"]},"legend":null},
      "stroke":{"field":"s","type":"nominal","scale":{"domain":["a","b","c","d","e","f","g"],"range":["#000080","#993366","#FF00FF","#00FFFF","#008000","#FF6600","#7030A0"]},"legend":null}}}
   ]},
  {"data":{"values":[{"v":8.5},{"v":6.5}]},"mark":{"type":"rule","color":"#FF0000","strokeWidth":3.5},"encoding":{"y":{"field":"v","type":"quantitative"},"x":{"datum":"S48","type":"ordinal","bandPosition":0.5},"x2":{"datum":"H29","bandPosition":0.5}}},
  {"data":{"values":[{"t":"環境基準河川A類型(6.5～8.5)"}]},"mark":{"type":"text","color":"#FF0000","font":"Noto Sans CJK JP","fontSize":18,"align":"left","baseline":"middle","dx":11},"encoding":{"text":{"field":"t"},"x":{"datum":"S48","type":"ordinal","bandPosition":0.5},"y":{"datum":6.24,"type":"quantitative"}}},
  {"data":{"values":[{}]},"mark":{"type":"rule","color":"#FF0000","strokeWidth":3.5},"encoding":{"x":{"datum":"H25","type":"ordinal","bandPosition":0},"y":{"datum":9.89,"type":"quantitative"},"y2":{"datum":5.29}}},
  {"data":{"values":[{}]},"mark":{"type":"rule","color":"#FF0000","strokeWidth":3.5},"encoding":{"x":{"datum":"H29","type":"ordinal","bandPosition":1},"y":{"datum":9.89,"type":"quantitative"},"y2":{"datum":5.29}}}
 ]},
{"width":1200,"height":212,
 "layer":[
  {"data":{"name":"S"},"transform":[{"lookup":"s","from":{"data":{"name":"series"},"key":"s","fields":["name"]}}],
   "layer":[
    {"mark":{"type":"line","strokeWidth":1.2},"encoding":{
      "x":{"field":"x","type":"ordinal","scale":{"domain":["S48","S49","S50","S51","S52","S53","S54","S55","S56","S57","S58","S59","S60","S61","S62","S63","H1","H2","H3","H4","H5","H6","H7","H8","H9","H10","H11","H12","H13","H14","H15","H16","H17","H18","H19","H20","H21","H22","H23","H24","H25","H26","H27","H28","H29"],"paddingInner":0,"paddingOuter":0},"axis":{"title":null}},
      "y":{"field":"v","type":"quantitative","scale":{"domain":[0,80],"nice":false},"axis":{"title":"SS(mg/L)","values":[0,20,40,60,80],"tickCount":50,"labelExpr":"''+datum.value","titleX":-59}},
      "color":{"field":"name","type":"nominal","scale":{"domain":["流入（雲川）","流入（笹生川）","放流（五条方）","放流（五条方PS）","放流（真名川PS）","下流（土布子橋）","下流(荒鹿橋)"],"range":["#000080","#993366","#FF00FF","#00FFFF","#008000","#FF6600","#7030A0"]},
        "legend":{"title":null,"legendX":217,"legendY":-48,"encode":{"symbols":{"update":{"shape":{"signal":"['M-1,0H-0.27M0.27,0H1M-0.27,-0.27H0.27V0.27H-0.27Z','M-1,0H-0.27M0.27,0H1M-0.27,-0.27H0.27V0.27H-0.27Z','M-1,0H-0.27M0.27,0H1M-0.27,0A0.27,0.27,0,1,0,0.27,0A0.27,0.27,0,1,0,-0.27,0Z','M-1,0H-0.27M0.27,0H1M-0.27,-0.27H0.27V0.27H-0.27Z','M-1,0H1M-0.33,0L0,-0.33L0.33,0L0,0.33Z','M-1,0H1M-0.33,0L0,-0.33L0.33,0L0,0.33Z','M-1,0H1M0,-0.36V0.36'][datum.index]"},"fill":{"signal":"['white','#993366','#FF9900','white','#008000','#FF6600','transparent'][datum.index]"},"strokeWidth":{"value":1.2}}}}}}}},
    {"mark":{"type":"point","filled":true,"strokeWidth":1,"opacity":1,"size":34},"encoding":{
      "x":{"field":"x","type":"ordinal"},
      "y":{"field":"v","type":"quantitative"},
      "shape":{"field":"s","type":"nominal","scale":{"domain":["a","b","c","d","e","f","g"],"range":["square","square","circle","square","diamond","diamond","M-1.4,0H1.4M0,-1.4V1.4"]},"legend":null},
      "fill":{"field":"s","type":"nominal","scale":{"domain":["a","b","c","d","e","f","g"],"range":["white","#993366","#FF9900","white","#008000","#FF6600","transparent"]},"legend":null},
      "stroke":{"field":"s","type":"nominal","scale":{"domain":["a","b","c","d","e","f","g"],"range":["#000080","#993366","#FF00FF","#00FFFF","#008000","#FF6600","#7030A0"]},"legend":null}}}
   ]},
  {"data":{"values":[{"v":25}]},"mark":{"type":"rule","color":"#FF0000","strokeWidth":3.5},"encoding":{"y":{"field":"v","type":"quantitative"},"x":{"datum":"S48","type":"ordinal","bandPosition":0.5},"x2":{"datum":"H29","bandPosition":0.5}}},
  {"data":{"values":[{"t":"環境基準河川A類型(25mg/L以下)"}]},"mark":{"type":"text","color":"#FF0000","font":"Noto Sans CJK JP","fontSize":18,"align":"left","baseline":"middle","dx":5},"encoding":{"text":{"field":"t"},"x":{"datum":"H17","type":"ordinal","bandPosition":0.5},"y":{"datum":31.3,"type":"quantitative"}}},
  {"data":{"values":[{}]},"mark":{"type":"rule","color":"#FF0000","strokeWidth":3.5},"encoding":{"x":{"datum":"H25","type":"ordinal","bandPosition":0},"y":{"datum":102.3,"type":"quantitative"},"y2":{"datum":-18.9}}},
  {"data":{"values":[{}]},"mark":{"type":"rule","color":"#FF0000","strokeWidth":3.5},"encoding":{"x":{"datum":"H29","type":"ordinal","bandPosition":1},"y":{"datum":102.3,"type":"quantitative"},"y2":{"datum":-18.9}}}
 ]},
{"width":1200,"height":213,
 "layer":[
  {"data":{"name":"D"},"transform":[{"lookup":"s","from":{"data":{"name":"series"},"key":"s","fields":["name"]}}],
   "layer":[
    {"mark":{"type":"line","strokeWidth":1.2},"encoding":{
      "x":{"field":"x","type":"ordinal","scale":{"domain":["S48","S49","S50","S51","S52","S53","S54","S55","S56","S57","S58","S59","S60","S61","S62","S63","H1","H2","H3","H4","H5","H6","H7","H8","H9","H10","H11","H12","H13","H14","H15","H16","H17","H18","H19","H20","H21","H22","H23","H24","H25","H26","H27","H28","H29"],"paddingInner":0,"paddingOuter":0},"axis":{"title":null}},
      "y":{"field":"v","type":"quantitative","scale":{"domain":[0,16],"nice":false},"axis":{"title":"DO(mg/L)","values":[0,2,4,6,8,10,12,14,16],"tickCount":50,"labelExpr":"''+datum.value","titleX":-59}},
      "color":{"field":"name","type":"nominal","scale":{"domain":["流入（雲川）","流入（笹生川）","放流（五条方）","放流（五条方PS）","放流（真名川PS）","下流（土布子橋）","下流(荒鹿橋)"],"range":["#000080","#993366","#FF00FF","#00FFFF","#008000","#FF6600","#7030A0"]},
        "legend":{"title":null,"legendX":220,"legendY":-49,"encode":{"symbols":{"update":{"shape":{"signal":"['M-1,0H-0.27M0.27,0H1M-0.27,-0.27H0.27V0.27H-0.27Z','M-1,0H-0.27M0.27,0H1M-0.27,-0.27H0.27V0.27H-0.27Z','M-1,0H-0.27M0.27,0H1M-0.27,0A0.27,0.27,0,1,0,0.27,0A0.27,0.27,0,1,0,-0.27,0Z','M-1,0H-0.27M0.27,0H1M-0.27,-0.27H0.27V0.27H-0.27Z','M-1,0H1M-0.33,0L0,-0.33L0.33,0L0,0.33Z','M-1,0H1M-0.33,0L0,-0.33L0.33,0L0,0.33Z','M-1,0H1M0,-0.36V0.36'][datum.index]"},"fill":{"signal":"['white','#993366','#FF9900','white','#008000','#FF6600','transparent'][datum.index]"},"strokeWidth":{"value":1.2}}}}}}}},
    {"mark":{"type":"point","filled":true,"strokeWidth":1,"opacity":1,"size":34},"encoding":{
      "x":{"field":"x","type":"ordinal"},
      "y":{"field":"v","type":"quantitative"},
      "shape":{"field":"s","type":"nominal","scale":{"domain":["a","b","c","d","e","f","g"],"range":["square","square","circle","square","diamond","diamond","M-1.4,0H1.4M0,-1.4V1.4"]},"legend":null},
      "fill":{"field":"s","type":"nominal","scale":{"domain":["a","b","c","d","e","f","g"],"range":["white","#993366","#FF9900","white","#008000","#FF6600","transparent"]},"legend":null},
      "stroke":{"field":"s","type":"nominal","scale":{"domain":["a","b","c","d","e","f","g"],"range":["#000080","#993366","#FF00FF","#00FFFF","#008000","#FF6600","#7030A0"]},"legend":null}}}
   ]},
  {"data":{"values":[{"v":7.5}]},"mark":{"type":"rule","color":"#FF0000","strokeWidth":3.5},"encoding":{"y":{"field":"v","type":"quantitative"},"x":{"datum":"S48","type":"ordinal","bandPosition":0.5},"x2":{"datum":"H29","bandPosition":0.5}}},
  {"data":{"values":[{"v":5.0}]},"mark":{"type":"rule","color":"#0000FF","strokeWidth":3.5},"encoding":{"y":{"field":"v","type":"quantitative"},"x":{"datum":"S53","type":"ordinal","bandPosition":0.5},"x2":{"datum":"H13","bandPosition":0.5}}},
  {"data":{"values":[{"t":"環境基準河川A類型(7.5mg/L以上)"}]},"mark":{"type":"text","color":"#FF0000","font":"Noto Sans CJK JP","fontSize":18,"align":"left","baseline":"middle","dx":15},"encoding":{"text":{"field":"t"},"x":{"datum":"H17","type":"ordinal","bandPosition":0.5},"y":{"datum":6.31,"type":"quantitative"}}},
  {"data":{"values":[{"t":"環境基準河川B類型(5.0mg/L以上)"}]},"mark":{"type":"text","color":"#0000FF","font":"Noto Sans CJK JP","fontSize":18,"align":"left","baseline":"middle","dx":9},"encoding":{"text":{"field":"t"},"x":{"datum":"S53","type":"ordinal","bandPosition":0.5},"y":{"datum":3.76,"type":"quantitative"}}},
  {"data":{"values":[{}]},"mark":{"type":"rule","color":"#FF0000","strokeWidth":3.5},"encoding":{"x":{"datum":"H25","type":"ordinal","bandPosition":0},"y":{"datum":20.43,"type":"quantitative"},"y2":{"datum":-3.76}}},
  {"data":{"values":[{}]},"mark":{"type":"rule","color":"#FF0000","strokeWidth":3.5},"encoding":{"x":{"datum":"H29","type":"ordinal","bandPosition":1},"y":{"datum":20.43,"type":"quantitative"},"y2":{"datum":-3.76}}}
 ]},
{"width":1200,"height":216,
 "layer":[
  {"data":{"name":"B"},"transform":[{"lookup":"s","from":{"data":{"name":"series"},"key":"s","fields":["name"]}}],
   "layer":[
    {"mark":{"type":"line","strokeWidth":1.2},"encoding":{
      "x":{"field":"x","type":"ordinal","scale":{"domain":["S48","S49","S50","S51","S52","S53","S54","S55","S56","S57","S58","S59","S60","S61","S62","S63","H1","H2","H3","H4","H5","H6","H7","H8","H9","H10","H11","H12","H13","H14","H15","H16","H17","H18","H19","H20","H21","H22","H23","H24","H25","H26","H27","H28","H29"],"paddingInner":0,"paddingOuter":0},"axis":{"title":null}},
      "y":{"field":"v","type":"quantitative","scale":{"domain":[0,4],"nice":false},"axis":{"title":"BOD75%(mg/L)","values":[0,0.5,1,1.5,2,2.5,3,3.5,4],"tickCount":50,"labelExpr":"''+datum.value","titleX":-59}},
      "color":{"field":"name","type":"nominal","scale":{"domain":["流入（雲川）","流入（笹生川）","放流（五条方）","放流（五条方PS）","放流（真名川PS）","下流（土布子橋）","下流(荒鹿橋)"],"range":["#000080","#993366","#FF00FF","#00FFFF","#008000","#FF6600","#7030A0"]},
        "legend":{"title":null,"legendX":218,"legendY":-46,"encode":{"symbols":{"update":{"shape":{"signal":"['M-1,0H-0.27M0.27,0H1M-0.27,-0.27H0.27V0.27H-0.27Z','M-1,0H-0.27M0.27,0H1M-0.27,-0.27H0.27V0.27H-0.27Z','M-1,0H-0.27M0.27,0H1M-0.27,0A0.27,0.27,0,1,0,0.27,0A0.27,0.27,0,1,0,-0.27,0Z','M-1,0H-0.27M0.27,0H1M-0.27,-0.27H0.27V0.27H-0.27Z','M-1,0H1M-0.33,0L0,-0.33L0.33,0L0,0.33Z','M-1,0H1M-0.33,0L0,-0.33L0.33,0L0,0.33Z','M-1,0H1M0,-0.36V0.36'][datum.index]"},"fill":{"signal":"['white','#993366','#FF9900','white','#008000','#FF6600','transparent'][datum.index]"},"strokeWidth":{"value":1.2}}}}}}}},
    {"mark":{"type":"point","filled":true,"strokeWidth":1,"opacity":1,"size":34},"encoding":{
      "x":{"field":"x","type":"ordinal"},
      "y":{"field":"v","type":"quantitative"},
      "shape":{"field":"s","type":"nominal","scale":{"domain":["a","b","c","d","e","f","g"],"range":["square","square","circle","square","diamond","diamond","M-1.4,0H1.4M0,-1.4V1.4"]},"legend":null},
      "fill":{"field":"s","type":"nominal","scale":{"domain":["a","b","c","d","e","f","g"],"range":["white","#993366","#FF9900","white","#008000","#FF6600","transparent"]},"legend":null},
      "stroke":{"field":"s","type":"nominal","scale":{"domain":["a","b","c","d","e","f","g"],"range":["#000080","#993366","#FF00FF","#00FFFF","#008000","#FF6600","#7030A0"]},"legend":null}}}
   ]},
  {"data":{"values":[{"v":3.0}]},"mark":{"type":"rule","color":"#0000FF","strokeWidth":3.5},"encoding":{"y":{"field":"v","type":"quantitative"},"x":{"datum":"S53","type":"ordinal","bandPosition":0.5},"x2":{"datum":"H13","bandPosition":0.5}}},
  {"data":{"values":[{"v":2.0}]},"mark":{"type":"rule","color":"#FF0000","strokeWidth":3.5},"encoding":{"y":{"field":"v","type":"quantitative"},"x":{"datum":"S48","type":"ordinal","bandPosition":0.5},"x2":{"datum":"H29","bandPosition":0.5}}},
  {"data":{"values":[{"t":"環境基準河川B類型(3.0mg/L以下)"}]},"mark":{"type":"text","color":"#0000FF","font":"Noto Sans CJK JP","fontSize":18,"align":"left","baseline":"middle","dx":-5},"encoding":{"text":{"field":"t"},"x":{"datum":"S56","type":"ordinal","bandPosition":0.5},"y":{"datum":3.28,"type":"quantitative"}}},
  {"data":{"values":[{"t":"環境基準河川A類型(2mg/L以下)"}]},"mark":{"type":"text","color":"#FF0000","font":"Noto Sans CJK JP","fontSize":18,"align":"left","baseline":"middle","dx":-12},"encoding":{"text":{"field":"t"},"x":{"datum":"H15","type":"ordinal","bandPosition":0.5},"y":{"datum":2.22,"type":"quantitative"}}},
  {"data":{"values":[{}]},"mark":{"type":"rule","color":"#FF0000","strokeWidth":3.5},"encoding":{"x":{"datum":"H25","type":"ordinal","bandPosition":0},"y":{"datum":5.09,"type":"quantitative"},"y2":{"datum":-0.72}}},
  {"data":{"values":[{}]},"mark":{"type":"rule","color":"#FF0000","strokeWidth":3.5},"encoding":{"x":{"datum":"H29","type":"ordinal","bandPosition":1},"y":{"datum":5.09,"type":"quantitative"},"y2":{"datum":-0.72}}},
  {"data":{"values":[{}]},"mark":{"type":"rule","color":"#FF0000","strokeWidth":3.5},"encoding":{"x":{"datum":"H25","type":"ordinal","bandPosition":0},"x2":{"datum":"H29","bandPosition":1},"y":{"datum":-0.72,"type":"quantitative"}}}
 ]}
]
}
